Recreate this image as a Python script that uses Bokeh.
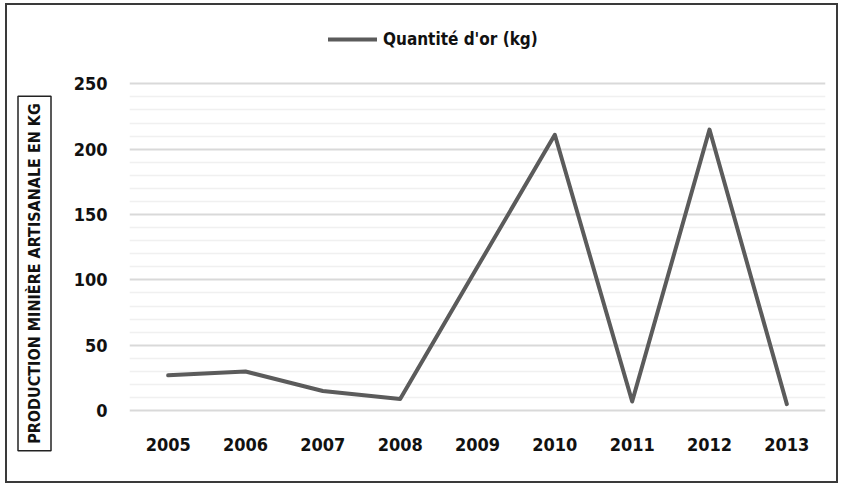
from bokeh.plotting import figure
from bokeh.layouts import row
from bokeh.models import (FactorRange, Range1d, FixedTicker, Legend, LegendItem,
                          Label, ColumnDataSource)
from bokeh.embed import file_html
from bokeh.resources import INLINE

years = ["2005", "2006", "2007", "2008", "2009", "2010", "2011", "2012", "2013"]
gold_kg = [27, 30, 15, 9, 110, 211, 7, 215, 5]
y_major = [0, 50, 100, 150, 200, 250]
y_minor = [v for v in range(10, 250, 10) if v % 50]
series_name = "Quantité d'or (kg)"
y_title = "PRODUCTION MINIÈRE ARTISANALE EN KG"

FONT = "DejaVu Sans Condensed"
H = 476
TOP, BOTTOM = 9, 12

# ---- left strip holding the boxed axis title
left = figure(width=60, height=H, x_range=Range1d(0, 60), y_range=Range1d(0, H - TOP - BOTTOM),
              output_backend="svg", toolbar_location=None,
              min_border_left=0, min_border_right=0, min_border_top=TOP, min_border_bottom=BOTTOM)
left.axis.visible = False
left.grid.visible = False
left.outline_line_color = None
left.border_fill_color = "white"
left.background_fill_color = "white"
left.add_layout(Label(x=27, y=196, text=y_title, angle=90, angle_units="deg",
                      text_align="center", text_baseline="middle",
                      text_font=FONT, text_font_style="bold", text_font_size="16px",
                      text_color="#111111", border_line_color="#222222",
                      border_line_width=1.5, background_fill_color="white", padding=7))

# ---- main chart
p = figure(width=769, height=H, x_range=FactorRange(*years, range_padding=0),
           y_range=Range1d(-45, 303), output_backend="svg", toolbar_location=None,
           min_border_left=62, min_border_right=11, min_border_top=TOP, min_border_bottom=BOTTOM)
p.outline_line_color = None
p.background_fill_color = "white"
p.border_fill_color = "white"

src = ColumnDataSource(dict(year=years, kg=gold_kg))
r = p.line("year", "kg", source=src, line_color="#5b5b5b", line_width=4, line_join="round",
           line_cap="round")

p.yaxis.ticker = FixedTicker(ticks=y_major, minor_ticks=y_minor)
p.xaxis.fixed_location = 0
for ax in (p.xaxis, p.yaxis):
    ax.axis_line_color = None
    ax.major_tick_line_color = None
    ax.minor_tick_line_color = None
    ax.major_label_text_font = FONT
    ax.major_label_text_font_style = "bold"
    ax.major_label_text_font_size = "18px"
    ax.major_label_text_color = "#111111"
p.yaxis.major_label_standoff = 16
p.xaxis.major_label_standoff = 21

p.xgrid.grid_line_color = None
p.ygrid.grid_line_color = "#d9d9d9"
p.ygrid.grid_line_width = 2
p.ygrid.minor_grid_line_color = "#f0f0f0"
p.ygrid.minor_grid_line_width = 1.5

legend = Legend(items=[LegendItem(label=series_name, renderers=[r])],
                location=(199, 420), orientation="horizontal", padding=0, margin=0,
                border_line_alpha=0, background_fill_alpha=0, glyph_width=49,
                glyph_height=20, label_standoff=6, label_text_font=FONT,
                label_text_font_style="bold", label_text_font_size="17px",
                label_text_color="#111111")
p.add_layout(legend)

layout = row(left, p, spacing=0,
             styles={"border": "2px solid #3a3a3a", "margin-left": "5px", "margin-top": "3px"})

open("out.html", "w").write(file_html(layout, INLINE))
